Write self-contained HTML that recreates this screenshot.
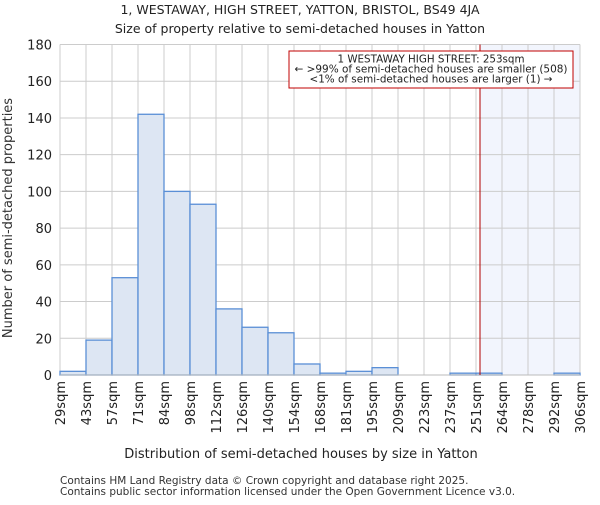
<!DOCTYPE html>
<html><head><meta charset="utf-8"><style>
body{margin:0;background:#fff;}
svg{font-family:"DejaVu Sans","Liberation Sans",sans-serif;}
</style></head><body>
<svg id="chart" width="600" height="500" viewBox="0 0 600 500">
<text x="300" y="14" text-anchor="middle" font-size="12.5" fill="#222">1, WESTAWAY, HIGH STREET, YATTON, BRISTOL, BS49 4JA</text>
<text x="300" y="33" text-anchor="middle" font-size="12.5" fill="#222">Size of property relative to semi-detached houses in Yatton</text>
<g id="grid"></g>
<g id="bars"></g>
<g id="axes"></g>
<text x="301" y="458" text-anchor="middle" font-size="13" fill="#222">Distribution of semi-detached houses by size in Yatton</text>
<text transform="translate(12,218) rotate(-90)" text-anchor="middle" font-size="13" fill="#333">Number of semi-detached properties</text>
<text x="60" y="484" font-size="10.5" fill="#333">Contains HM Land Registry data © Crown copyright and database right 2025.</text>
<text x="60" y="495" font-size="10.5" fill="#333">Contains public sector information licensed under the Open Government Licence v3.0.</text>
</svg>
<script>
const binLabels=["29sqm","43sqm","57sqm","71sqm","84sqm","98sqm","112sqm","126sqm","140sqm","154sqm","168sqm","181sqm","195sqm","209sqm","223sqm","237sqm","251sqm","264sqm","278sqm","292sqm","306sqm"];
const binEdges=[29,43,57,71,84,98,112,126,140,154,168,181,195,209,223,237,251,264,278,292,306];
const counts=[2,19,53,142,100,93,36,26,23,6,1,2,4,0,0,1,1,0,0,1];
const yTicks=[0,20,40,60,80,100,120,140,160,180];
const propertySize=253;
const annotationLines=["1 WESTAWAY HIGH STREET: 253sqm","← >99% of semi-detached houses are smaller (508)","<1% of semi-detached houses are larger (1) →"];

const NS="http://www.w3.org/2000/svg";
const X0=60,X1=580,Y0=375,Y1=44.5,YMAX=180;
const nb=counts.length;
function xIdx(i){return X0+(X1-X0)*i/nb;}
function xVal(v){let i=0;while(i<binEdges.length-2&&v>binEdges[i+1])i++;return xIdx(i)+(v-binEdges[i])/(binEdges[i+1]-binEdges[i])*(X1-X0)/nb;}
function y(v){return Y0-(Y0-Y1)*v/YMAX;}
function mk(t,a,p){const e=document.createElementNS(NS,t);for(const k in a)e.setAttribute(k,a[k]);p.appendChild(e);return e;}
const grid=document.getElementById('grid'),bars=document.getElementById('bars'),axes=document.getElementById('axes');
const px=xVal(propertySize);
let sh=mk('rect',{x:px,y:Y1,width:X1-px,height:Y0-Y1,fill:'#f2f5fd'},grid);


for(let i=0;i<=nb;i++){let l=mk('line',{x1:xIdx(i),x2:xIdx(i),y1:Y1,y2:Y0,stroke:'#cccccc','stroke-width':1},grid);

}
yTicks.forEach(t=>{let l=mk('line',{x1:X0,x2:X1,y1:y(t),y2:y(t),stroke:'#cccccc','stroke-width':1},grid);


let tx=mk('text',{x:X0-8,y:y(t)+5,'text-anchor':'end','font-size':13,fill:'#222'},axes);tx.textContent=t;

});
counts.forEach((c,i)=>{if(c<=0)return;let r=mk('rect',{x:xIdx(i),y:y(c),width:xIdx(i+1)-xIdx(i),height:Y0-y(c),fill:'#dde6f3',stroke:'#5a8fd6','stroke-width':1.3},bars);

});
binLabels.forEach((s,i)=>{let tx=mk('text',{transform:`translate(${xIdx(i)+5},381) rotate(-90)`,'text-anchor':'end','font-size':13,fill:'#222'},axes);tx.textContent=s;

});
let ax=mk('line',{x1:X0,x2:X1,y1:Y0,y2:Y0,stroke:'#bbb','stroke-width':1},axes);


let rl=mk('line',{x1:px,x2:px,y1:Y1,y2:Y0,stroke:'#b00000','stroke-width':1},axes);


let box=mk('rect',{x:289,y:51,width:284,height:37,fill:'#fff',stroke:'#c00000','stroke-width':1},axes);


annotationLines.forEach((s,i)=>{let tx=mk('text',{x:431,y:62.5+i*10,'text-anchor':'middle','font-size':10.5,'textLength':i==0?187:(i==1?273:243),'lengthAdjust':'spacingAndGlyphs',fill:'#222'},axes);tx.textContent=s;

});
</script>
</body></html>
